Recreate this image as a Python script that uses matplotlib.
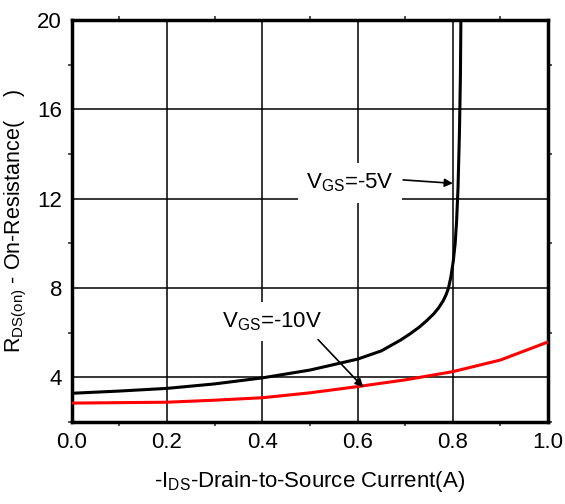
import matplotlib
matplotlib.use("Agg")
import matplotlib.pyplot as plt
from matplotlib.ticker import MultipleLocator

plt.rcParams['font.family'] = ['Liberation Sans', 'DejaVu Sans']
plt.rcParams['mathtext.default'] = 'regular'

# VGS = -5V (black)
x_5v = [0.0, 0.1, 0.2, 0.3, 0.4, 0.5, 0.6, 0.65, 0.69, 0.71, 0.73, 0.745, 0.76, 0.77, 0.78, 0.786, 0.791, 0.796,
        0.801, 0.805, 0.808, 0.811, 0.814, 0.816, 0.817]
y_5v = [3.28, 3.38, 3.5, 3.7, 3.97, 4.32, 4.81, 5.18, 5.66, 5.94, 6.25, 6.53, 6.84, 7.1, 7.43, 7.7, 8.0, 8.5,
        9.2, 10.0, 11.0, 12.5, 15.0, 17.5, 20.0]

# VGS = -10V (red)
x_10v = [0.0, 0.1, 0.2, 0.3, 0.4, 0.5, 0.6, 0.7, 0.8, 0.9, 1.0]
y_10v = [2.84, 2.86, 2.88, 2.97, 3.08, 3.3, 3.58, 3.88, 4.25, 4.77, 5.58]

xticks = [0.0, 0.2, 0.4, 0.6, 0.8, 1.0]
yticks = [4, 8, 12, 16, 20]

fig = plt.figure(figsize=(5.65, 5.04), dpi=100)
ax = fig.add_axes([0.127, 0.163, 0.843, 0.797])

ax.plot(x_5v, y_5v, color='black', lw=2.2, zorder=3)
ax.plot(x_10v, y_10v, color='#ff0000', lw=2.2, zorder=3)

ax.set_xlim(0, 1.0)
ax.set_ylim(2, 20)
ax.set_xticks(xticks)
ax.set_xticklabels([f"{v:.1f}" for v in xticks])
ax.set_yticks(yticks)
ax.xaxis.set_minor_locator(MultipleLocator(0.1))
ax.yaxis.set_minor_locator(MultipleLocator(2))
ax.grid(True, which='major', color='black', lw=1.1, zorder=1)

ax.tick_params(which='both', direction='in', labelsize=16, width=1.2, color='#333333')
ax.tick_params(which='major', length=0, pad=7)
ax.tick_params(which='minor', length=5)
ax.tick_params(which='both', top=True)
ax.tick_params(which='minor', right=True, direction='out', length=3)
for s in ax.spines.values():
    s.set_linewidth(2.5)

ax.set_xlabel(r'-I$_{DS}$-Drain-to-Source Current(A)', fontsize=16, labelpad=12)
ax.set_ylabel(r'R$_{DS(on)}$ - On-Resistance(    )', fontsize=15.5, labelpad=6)

bbox = dict(facecolor='white', edgecolor='none', pad=6)
ax.text(0.584, 12.7, r'V$_{GS}$=-5V', fontsize=16, ha='center', va='center', bbox=bbox, zorder=2)
ax.annotate('', xy=(0.806, 12.68), xytext=(0.69, 12.85),
            arrowprops=dict(arrowstyle='-|>', color='black', lw=1.2, mutation_scale=12), zorder=4)
ax.text(0.42, 6.5, r'V$_{GS}$=-10V', fontsize=16, ha='center', va='center', bbox=bbox, zorder=2)
ax.annotate('', xy=(0.616, 3.46), xytext=(0.513, 5.78),
            arrowprops=dict(arrowstyle='-|>', color='black', lw=1.2, mutation_scale=12), zorder=4)

fig.savefig('out.png', dpi=100)
